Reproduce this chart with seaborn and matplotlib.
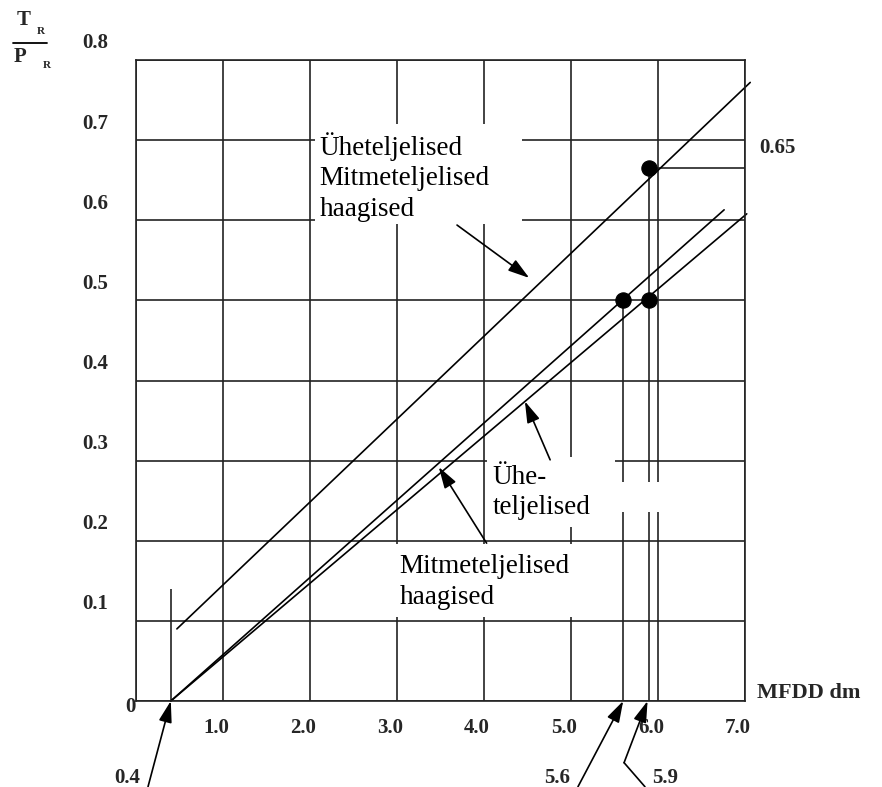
import numpy as np
import pandas as pd
import matplotlib
matplotlib.use('Agg')
import matplotlib.pyplot as plt
import matplotlib.transforms as mtrans
from matplotlib.patches import Rectangle, FancyArrowPatch
from matplotlib.lines import Line2D
import seaborn as sns

# andmed (loetud jooniselt)
x_ticks = [0, 1, 2, 3, 4, 5, 6, 7]
x_labels = ['', '1.0', '2.0', '3.0', '4.0', '5.0', '6.0', '7.0']
y_ticks = [0, 0.1, 0.2, 0.3, 0.4, 0.5, 0.6, 0.7, 0.8]
y_labels = ['0', '0.1', '0.2', '0.3', '0.4', '0.5', '0.6', '0.7', '0.8']

line_top_x = [0.47, 7.06]
line_top_y = [0.09, 0.772]
line_mid_x = [0.4, 6.76]
line_mid_y = [0.0, 0.613]
line_low_x = [0.4, 7.02]
line_low_y = [0.0, 0.608]

point_x = [5.6, 5.9, 5.9]
point_y = [0.5, 0.5, 0.665]

mark_x = [0.4, 5.6, 5.9]
mark_top = [0.14, 0.5, 0.665]
mark_labels = ['0.4', '5.6', '5.9']

W, H = 882, 787


def fx(px):
    return px / W


def fy(py):
    return 1 - py / H


sns.set_theme(style='white')
plt.rcParams['font.family'] = ['Liberation Serif', 'DejaVu Serif']

fig = plt.figure(figsize=(W / 100, H / 100), dpi=100)
ax = fig.add_axes([fx(136), fy(701), (745 - 136) / W, (701 - 60) / H])

# jooned
for xs, ys in [(line_top_x, line_top_y), (line_mid_x, line_mid_y), (line_low_x, line_low_y)]:
    sns.lineplot(x=xs, y=ys, ax=ax, color='black', linewidth=1.2, zorder=2)
for ln in ax.lines:
    ln.set_clip_on(False)

sns.scatterplot(x=point_x, y=point_y, ax=ax, color='black', s=120, marker='o',
                edgecolor='black', zorder=4, clip_on=False)

# abijooned
ax.vlines(mark_x, 0, mark_top, color='#222222', linewidth=1.2, zorder=1)
ax.hlines(point_y[2], point_x[2], 7.0, color='#222222', linewidth=1.2, zorder=1)

ax.set_xlim(0, 7)
ax.set_ylim(0, 0.8)
ax.set_xticks(x_ticks, x_labels)
ax.set_yticks(y_ticks, y_labels)
ax.set_axisbelow(True)
ax.grid(True, color='#222222', linewidth=1.2)
for sp in ax.spines.values():
    sp.set_color('#222222')
    sp.set_linewidth(1.2)
ax.tick_params(length=0, labelsize=15)
ax.tick_params(axis='y', pad=20)
ax.tick_params(axis='x', pad=12)
for lab in ax.get_xticklabels() + ax.get_yticklabels():
    lab.set_fontweight('bold')

# sildid on originaalis veidi nihkes
for lab in ax.get_xticklabels():
    lab.set_transform(lab.get_transform() + mtrans.ScaledTranslation(-0.07, 0, fig.dpi_scale_trans))
for lab, txt in zip(ax.get_yticklabels(), y_labels):
    if txt == '0':
        off = mtrans.ScaledTranslation(0.27, -0.04, fig.dpi_scale_trans)
    else:
        off = mtrans.ScaledTranslation(0, 0.19, fig.dpi_scale_trans)
    lab.set_transform(lab.get_transform() + off)

# valged kastid
for (x0, y0, x1, y1) in [(2.06, 0.595, 4.44, 0.72), (4.03, 0.217, 5.51, 0.305),
                         (5.51, 0.236, 6.08, 0.273), (2.99, 0.105, 5.01, 0.196)]:
    ax.add_patch(Rectangle((x0, y0), x1 - x0, y1 - y0, facecolor='white',
                           edgecolor='none', zorder=1.5))

box_font = dict(fontsize=19.5, color='black', va='center', ha='left', zorder=3,
                linespacing=1.28)
ax.text(2.11, 0.654, 'Üheteljelised\nMitmeteljelised\nhaagised', **box_font)
ax.text(4.1, 0.26, 'Ühe-\nteljelised', **box_font)
ax.text(3.03, 0.1486, 'Mitmeteljelised\nhaagised', **box_font)

arrow_style = '-|>,head_length=0.65,head_width=0.2'


def add_arrow(tail, tip):
    arr = FancyArrowPatch(tail, tip, arrowstyle=arrow_style, mutation_scale=20,
                          color='black', lw=1.2, shrinkA=0, shrinkB=0,
                          transform=ax.transData, zorder=6)
    arr.set_clip_on(False)
    fig.add_artist(arr)


add_arrow((3.69, 0.594), (4.52, 0.528))
add_arrow((4.76, 0.301), (4.47, 0.374))
add_arrow((4.03, 0.197), (3.48, 0.292))

# alumised nooled
add_arrow((0.138, -0.107), (mark_x[0], 0))
add_arrow((5.08, -0.107), (mark_x[1], 0))
ax.plot([5.85, 5.61], [-0.107, -0.077], color='black', lw=1.2, clip_on=False)
add_arrow((5.61, -0.077), (5.88, 0))
for x_lab, txt in zip([-0.1, 4.84, 6.08], mark_labels):
    ax.text(x_lab, -0.096, txt, fontsize=15, fontweight='bold', ha='center',
            va='center', clip_on=False)

ax.text(7.06 + 0.1, 0.69, '0.65', fontsize=15, fontweight='bold', ha='left',
        va='center', clip_on=False)

# telgede nimed
fig.text(fx(757), fy(693), 'MFDD dm', fontsize=16, fontweight='bold', ha='left', va='center')
fig.text(fx(24), fy(20), 'T', fontsize=15, fontweight='bold', ha='center', va='center')
fig.text(fx(41), fy(31), 'R', fontsize=8, fontweight='bold', ha='center', va='center')
fig.add_artist(Line2D([fx(13), fx(47)], [fy(43), fy(43)], color='black', lw=1.3))
fig.text(fx(20), fy(57), 'P', fontsize=15, fontweight='bold', ha='center', va='center')
fig.text(fx(47), fy(66), 'R', fontsize=8, fontweight='bold', ha='center', va='center')

fig.savefig('out.png', dpi=100)
